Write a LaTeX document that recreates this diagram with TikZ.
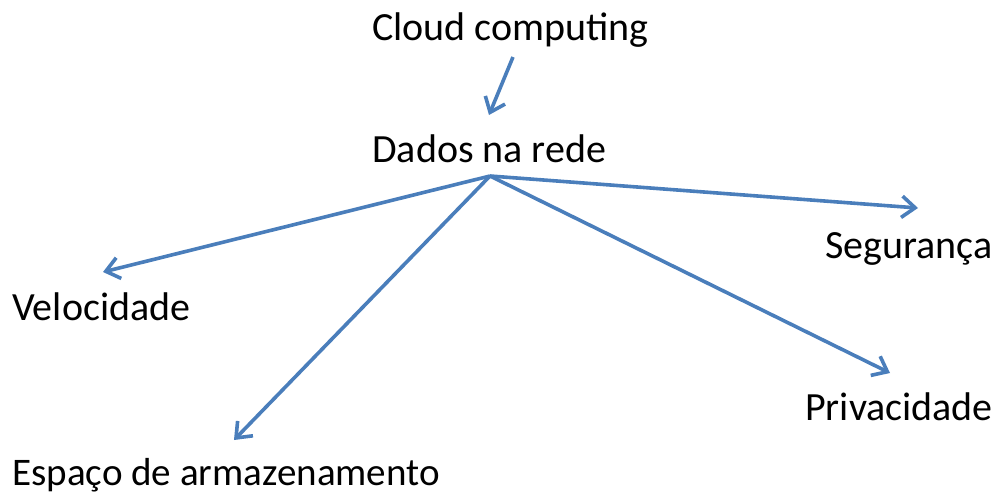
\documentclass[tikz,border=0pt]{standalone}
\usepackage{fontspec}
\setmainfont{Carlito}
\usetikzlibrary{arrows.meta}
\definecolor{lineblue}{RGB}{74,126,187}
\begin{document}
\begin{tikzpicture}[x=0.75pt,y=-0.75pt,
  lbl/.style={anchor=base west,inner sep=0pt,font=\fontsize{30}{36}\selectfont},
  conn/.style={draw=lineblue,line width=2.7pt,-{Straight Barb[length=10pt,width=16pt,line width=2.7pt]}}]
\useasboundingbox (0,0) rectangle (1000,497);
\node[lbl] (cloud) at (372,40) {Cloud computing};
\node[lbl] (dados) at (372,162) {Dados na rede};
\node[lbl] (vel) at (12,320) {Velocidade};
\node[lbl] (seg) at (825,258) {Segurança};
\node[lbl] (priv) at (805,420) {Privacidade};
\node[lbl,font=\fontsize{29.3}{36}\selectfont] (esp) at (12,485) {Espaço de armazenamento};
\coordinate (c0) at (513,57);
\coordinate (c1) at (489,115);
\coordinate (hub) at (490,176);
\coordinate (tv) at (103,272);
\coordinate (ts) at (918,208);
\coordinate (tp) at (890,373);
\coordinate (te) at (234,440);
\draw[conn] (c0) -- (c1);
\draw[conn] (hub) -- (tv);
\draw[conn] (hub) -- (ts);
\draw[conn] (hub) -- (tp);
\draw[conn] (hub) -- (te);
\end{tikzpicture}
\end{document}
